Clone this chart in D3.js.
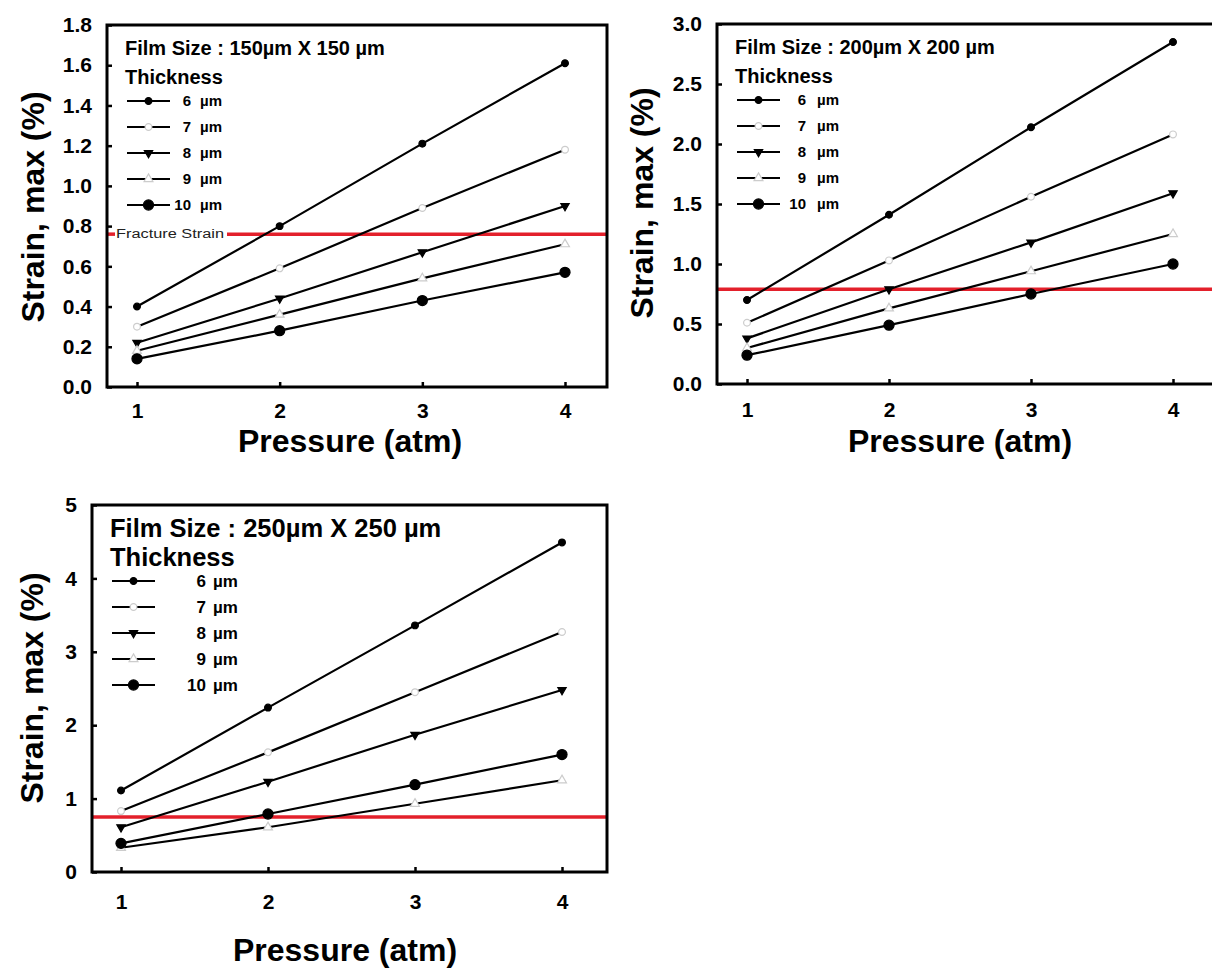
<!DOCTYPE html>
<html>
<head>
    <meta charset="utf-8">
    <script src="https://d3js.org/d3.v7.min.js"></script>
    <style>
        body { margin: 0; background: #fff; }
        text { font-family: "Liberation Sans", Arial, sans-serif; font-weight: bold; fill: #000; }
    </style>
</head>
<body>
    <svg width="1212" height="970"></svg>

    <script>
        // pressure (atm) on the x axis, film thickness (µm) for each series
        var pressure = [1, 2, 3, 4];
        var thickness = ["6", "7", "8", "9", "10"];

        // max strain (%), one row per thickness
        var strain150 = [
            [0.40, 0.80, 1.21, 1.61],
            [0.30, 0.59, 0.89, 1.18],
            [0.22, 0.44, 0.67, 0.90],
            [0.18, 0.36, 0.54, 0.71],
            [0.14, 0.28, 0.43, 0.57]
        ];
        var strain200 = [
            [0.70, 1.41, 2.14, 2.85],
            [0.51, 1.03, 1.56, 2.08],
            [0.38, 0.79, 1.18, 1.59],
            [0.30, 0.63, 0.94, 1.25],
            [0.24, 0.49, 0.75, 1.00]
        ];
        var strain250 = [
            [1.11, 2.24, 3.36, 4.49],
            [0.83, 1.63, 2.45, 3.27],
            [0.61, 1.23, 1.87, 2.48],
            [0.33, 0.61, 0.93, 1.25],
            [0.39, 0.79, 1.19, 1.60]
        ];

        // fracture strain line, as drawn in each panel
        var fracture = [0.76, 0.79, 0.75];
        var filmSizes = ["150", "200", "250"];

        // y ticks per panel
        var yTicks150 = [0, 0.2, 0.4, 0.6, 0.8, 1.0, 1.2, 1.4, 1.6, 1.8];
        var yTicks200 = [0, 0.5, 1.0, 1.5, 2.0, 2.5, 3.0];
        var yTicks250 = [0, 1, 2, 3, 4, 5];

        var svg = d3.select("svg");

        var panels = [
            { L: 107, R: 607, T: 25, B: 387, x1: 137, x4: 565, ymax: 1.8, ticks: yTicks150, fmt: ".1f",
              data: strain150, frac: fracture[0], size: filmSizes[0], ytx: 33, yty: 207, xtx: 350, xty: 452, pad: 16,
              label: true, lt: 20, li: 15, numX: 84, unitX: 93 },
            { L: 717, R: 1216, T: 24, B: 384, x1: 747, x4: 1173, ymax: 3.0, ticks: yTicks200, fmt: ".1f",
              data: strain200, frac: fracture[1], size: filmSizes[1], ytx: 642, yty: 203, xtx: 960, xty: 452, pad: 18,
              label: false, lt: 20, li: 15, numX: 89, unitX: 100 },
            { L: 92, R: 607, T: 505, B: 872, x1: 121, x4: 562, ymax: 5, ticks: yTicks250, fmt: "d",
              data: strain250, frac: fracture[2], size: filmSizes[2], ytx: 32, yty: 688, xtx: 345, xty: 961, pad: 22,
              label: false, lt: 25.5, li: 17, numX: 114, unitX: 121 }
        ];

        // symbol for each thickness
        var markers = [
            { type: d3.symbolCircle, size: 36, fill: "#000", stroke: "#000" },
            { type: d3.symbolCircle, size: 36, fill: "#fff", stroke: "#ccc" },
            { type: d3.symbolTriangle, size: 30, fill: "#000", stroke: "#000", rot: 180 },
            { type: d3.symbolTriangle, size: 34, fill: "#fff", stroke: "#ccc", rot: 0 },
            { type: d3.symbolCircle, size: 80, fill: "#000", stroke: "#000" }
        ];

        function drawMarker(g, i, x, y) {
            var m = markers[i];
            g.append("path")
                .attr("d", d3.symbol().type(m.type).size(m.size)())
                .attr("transform", "translate(" + x + "," + y + ")" + (m.rot ? " rotate(" + m.rot + ")" : ""))
                .attr("fill", m.fill)
                .attr("stroke", m.stroke)
                .attr("stroke-width", 1.2);
        }

        panels.forEach(function(p) {
            var g = svg.append("g");

            var x = d3.scaleLinear().domain([1, 4]).range([p.x1, p.x4]);
            var y = d3.scaleLinear().domain([0, p.ymax]).range([p.B, p.T]);

            // axes, ticks pointing inward
            var yAxis = d3.axisLeft(y).tickValues(p.ticks).tickSize(-5).tickPadding(15)
                .tickFormat(d3.format(p.fmt));
            var gy = g.append("g").attr("transform", "translate(" + p.L + ",0)").call(yAxis);
            var xAxis = d3.axisBottom(x).tickValues(pressure).tickSize(-5).tickPadding(p.pad)
                .tickFormat(d3.format("d"));
            var gx = g.append("g").attr("transform", "translate(0," + p.B + ")").call(xAxis);
            [gx, gy].forEach(function(a) {
                a.select(".domain").remove();
                a.selectAll(".tick line").attr("stroke", "#000").attr("stroke-width", 2.5);
                a.selectAll(".tick text").style("font-size", "21px").attr("fill", "#000");
            });

            // fracture strain line
            var fy = y(p.frac);
            if (p.label) {
                g.append("line").attr("x1", p.L).attr("x2", p.L + 8).attr("y1", fy).attr("y2", fy)
                    .attr("stroke", "#e3202b").attr("stroke-width", 3.5);
                g.append("line").attr("x1", p.L + 120).attr("x2", p.R).attr("y1", fy).attr("y2", fy)
                    .attr("stroke", "#e3202b").attr("stroke-width", 3.5);
                g.append("text").attr("x", p.L + 9).attr("y", fy + 4)
                    .attr("textLength", 108).attr("lengthAdjust", "spacingAndGlyphs")
                    .style("font-size", "12px").style("font-weight", "normal").style("fill", "#222")
                    .text("Fracture Strain");
            } else {
                g.append("line").attr("x1", p.L).attr("x2", p.R).attr("y1", fy).attr("y2", fy)
                    .attr("stroke", "#e3202b").attr("stroke-width", 3.5);
            }

            // series lines and markers
            var line = d3.line()
                .x(function(d, j) { return x(pressure[j]); })
                .y(function(d) { return y(d); });

            p.data.forEach(function(s, i) {
                g.append("path").datum(s)
                    .attr("d", line)
                    .attr("fill", "none")
                    .attr("stroke", "#000")
                    .attr("stroke-width", 2.2);
            });
            p.data.forEach(function(s, i) {
                s.forEach(function(v, j) { drawMarker(g, i, x(pressure[j]), y(v)); });
            });

            // frame
            g.append("rect")
                .attr("x", p.L).attr("y", p.T)
                .attr("width", p.R - p.L).attr("height", p.B - p.T)
                .attr("fill", "none").attr("stroke", "#000").attr("stroke-width", 3);

            // legend
            g.append("text").attr("x", p.L + 18).attr("y", p.T + 23).attr("dy", "0.35em")
                .style("font-size", p.lt + "px")
                .text("Film Size : " + p.size + "µm X " + p.size + " µm");
            g.append("text").attr("x", p.L + 18).attr("y", p.T + 52).attr("dy", "0.35em")
                .style("font-size", p.lt + "px")
                .text("Thickness");
            thickness.forEach(function(t, i) {
                var ly = p.T + 76 + i * 26;
                g.append("line").attr("x1", p.L + 20).attr("x2", p.L + 63).attr("y1", ly).attr("y2", ly)
                    .attr("stroke", "#000").attr("stroke-width", 2);
                drawMarker(g, i, p.L + 41.5, ly);
                g.append("text").attr("x", p.L + p.numX).attr("y", ly).attr("dy", "0.35em")
                    .attr("text-anchor", "end").style("font-size", p.li + "px").text(t);
                g.append("text").attr("x", p.L + p.unitX).attr("y", ly).attr("dy", "0.35em")
                    .style("font-size", p.li + "px").text("µm");
            });

            // axis titles
            g.append("text")
                .attr("transform", "translate(" + p.ytx + "," + p.yty + ") rotate(-90)")
                .attr("text-anchor", "middle").attr("dy", "0.35em")
                .style("font-size", "32px")
                .text("Strain, max (%)");
            g.append("text")
                .attr("x", p.xtx).attr("y", p.xty)
                .attr("text-anchor", "middle")
                .style("font-size", "32px")
                .text("Pressure (atm)");
        });
    </script>
</body>
</html>
